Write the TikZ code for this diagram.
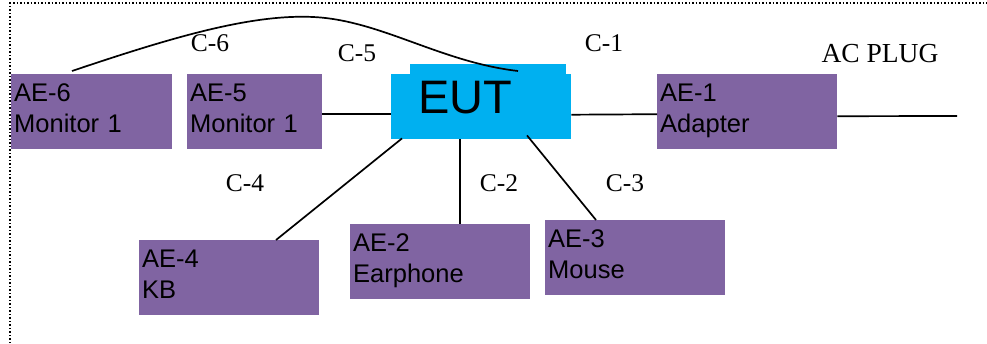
\documentclass[tikz,border=0pt]{standalone}
\usepackage{fontspec}
\setmainfont{Liberation Serif}
\newfontfamily\arialfont{Liberation Sans}
\usepackage{tikz}
\definecolor{aepurple}{HTML}{8064A2}
\definecolor{eutblue}{HTML}{00B0F0}

\tikzset{
  aebox/.style={fill=aepurple, anchor=north west, align=left, text width=#1,
    inner xsep=3pt, inner ysep=4pt, text height=23pt, text depth=44pt,
    font=\arialfont\fontsize{25.5}{31}\selectfont},
  aebox/.default=174pt,
  cable/.style={font=\fontsize{25.5}{30}\selectfont, inner sep=0pt},
  wire/.style={line width=1.7pt}
}

\begin{document}
\begin{tikzpicture}[x=1pt, y=-1pt]
    \useasboundingbox (0,0) rectangle (987,343);
    % frame
    \draw[dotted, line width=1.5pt] (10,343) -- (10,3) -- (987,3);

    % equipment under test
    \node[fill=eutblue, anchor=north west, minimum width=180pt, minimum height=65pt,
      align=left, text width=126pt, inner xsep=27pt, inner ysep=5pt,
      text height=34pt, text depth=21pt,
      font=\arialfont\fontsize{47}{50}\selectfont] (eut) at (391,74) {EUT};
    \fill[eutblue] ([xshift=19pt]eut.north west) rectangle ([xshift=-5pt,yshift=10pt]eut.north east);

    % auxiliary equipment
    \node[aebox=155pt] (ae6) at (11,74)  {AE-6\\Monitor 1};
    \node[aebox=129pt] (ae5) at (187,74) {AE-5\\Monitor 1};
    \node[aebox]       (ae1) at (657,74) {AE-1\\Adapter};
    \node[aebox]       (ae4) at (139,240) {AE-4\\KB};
    \node[aebox]       (ae2) at (350,224) {AE-2\\Earphone};
    \node[aebox]       (ae3) at (545,220) {AE-3\\Mouse};
    \coordinate (plug) at (957,116);

    % cables
    \draw[wire] ([xshift=61pt,yshift=3pt]ae6.north west)
      .. controls (170,38) and (250,14) .. (313,17)
      .. controls (380,20) and (440,62) .. ([xshift=127pt,yshift=3pt]eut.north west);
    \draw[wire] ([yshift=-2.5pt]ae5.east) -- ([yshift=-7.5pt]eut.west);
    \draw[wire] ([yshift=-8pt]eut.east) -- ([yshift=-2.5pt]ae1.west);
    \draw[wire] ([yshift=-4.5pt]ae1.east) -- (plug);
    \draw[wire] ([xshift=11pt,yshift=1pt]eut.south west) -- ([xshift=137pt]ae4.north west);
    \draw[wire] ([xshift=69pt]eut.south west) -- ([xshift=110pt]ae2.north west);
    \draw[wire] ([xshift=136pt,yshift=4pt]eut.south west) -- ([xshift=51pt]ae3.north west);

    % cable labels
    \node[cable] (c6) at (210,43) {C-6};
    \node[cable] (c5) at (357,53) {C-5};
    \node[cable] (c1) at (604,43) {C-1};
    \node[cable] (c4) at (245,183) {C-4};
    \node[cable] (c2) at (499,183) {C-2};
    \node[cable] (c3) at (625,183) {C-3};
    \node[cable, font=\fontsize{27.5}{30}\selectfont] (acplug) at (880,54) {AC PLUG};
\end{tikzpicture}
\end{document}
